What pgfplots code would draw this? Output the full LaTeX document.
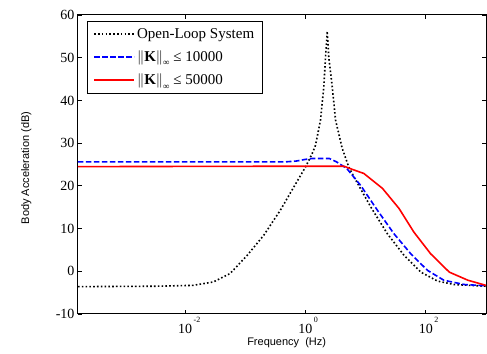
\documentclass[border=0pt]{standalone}
\usepackage{pgfplots}
\pgfplotsset{compat=1.18}
\usepackage{fontspec}
\setmainfont{Liberation Serif}
\newfontfamily\arial{Liberation Sans}
\begin{document}
\begin{tikzpicture}
\begin{axis}[
  scale only axis,
  width=408pt, height=299pt,
  xmode=log,
  xmin=1.66e-4, xmax=1000,
  ymin=-10, ymax=60,
  xtick={0.01,1,100},
  xticklabels={10\rlap{\hspace{1.5pt}\raisebox{11pt}{\fontsize{8}{8}\selectfont -2}},
               10\rlap{\hspace{1.5pt}\raisebox{11pt}{\fontsize{8}{8}\selectfont 0}},
               10\rlap{\hspace{1.5pt}\raisebox{11pt}{\fontsize{8}{8}\selectfont 2}}},
  ytick={-10,0,10,20,30,40,50,60},
  yticklabels={-10,0,10,20,30,40,50,60},
  xminorticks=false,
  yminorticks=false,
  tick align=inside,
  tick pos=both,
  major tick length=4pt,
  tick style={black, line width=0.8pt},
  axis line style={black, line width=1pt},
  ticklabel style={font=\fontsize{14}{16}\selectfont},
  xlabel={\arial Frequency~~(Hz)},
  ylabel={\arial Body Acceleration (dB)},
  label style={font=\fontsize{11}{13}\selectfont},
  xlabel style={at={(axis description cs:0.5115,-0.097)}, anchor=center},
  ylabel style={at={(axis description cs:-0.127,0.488)}, anchor=center},
  legend cell align=left,
  legend style={at={(axis description cs:0.0228,0.98)}, anchor=north west,
    draw=black, font=\fontsize{15}{17}\selectfont,
    inner xsep=6pt, inner ysep=5pt, row sep=7pt,
    nodes={inner sep=2pt}},
  legend image code/.code={\draw[#1] (0pt,0pt) -- (40pt,0pt);},
]
\addlegendimage{black, line width=1.6pt, dash pattern=on 1.6pt off 2.2pt}
\addlegendentry{Open-Loop System}
\addlegendimage{blue, line width=1.6pt, dash pattern=on 5.5pt off 2.5pt}
\addlegendentry{$\|$\textbf{K}$\|$\raisebox{-4.5pt}{\fontsize{9}{9}\selectfont ∞} ≤ 10000}
\addlegendimage{red, line width=1.6pt, solid}
\addlegendentry{$\|$\textbf{K}$\|$\raisebox{-4.5pt}{\fontsize{9}{9}\selectfont ∞} ≤ 50000}
\addplot[forget plot, black, line width=1.6pt, dash pattern=on 1.6pt off 2.2pt] coordinates {
(1.66e-4,-3.6) (3.16e-3,-3.5) (0.0135,-3.3) (0.0295,-2.5) (0.0562,-0.5)
(0.107,3.7) (0.2018,8.4) (0.3828,14.3) (0.638,19.7) (1.0,24.4) (1.288,27.5)
(1.469,29.5) (1.778,35.4) (2.018,43.2) (2.153,50) (2.30,56.2) (2.443,50)
(2.786,43.2) (3.162,35.4) (4.074,28.8) (5.248,24.4) (6.383,22.1) (12.11,15.1)
(22.91,8.8) (43.65,3.7) (82.6,-0.2) (156.7,-2.3) (295.1,-3.1) (1000,-3.5)
};
\addplot[forget plot, blue, line width=1.6pt, dash pattern=on 5.5pt off 2.5pt] coordinates {
(1.66e-4,25.6) (0.45,25.6) (0.7,25.8) (1.0,26.2) (1.3,26.4) (2.5,26.4)
(3.3,25.6) (4.9,24.0) (8.26,20.1) (15.67,14.3) (29.5,8.8) (56.2,4.1)
(107,0.2) (199.5,-2.1) (436,-3.1) (1000,-3.4)
};
\addplot[forget plot, red, line width=1.6pt] coordinates {
(1.66e-4,24.5) (1.0,24.6) (4.37,24.6) (5.62,24.0) (9.33,22.9) (19.05,19.4)
(35.9,14.7) (63.1,9.2) (120.2,4.1) (245.5,-0.2) (501,-2.1) (1000,-3.3)
};
\end{axis}
\pgfresetboundingbox
\path[use as bounding box] ([xshift=-78pt,yshift=-40pt]current axis.south west) rectangle ([xshift=1pt,yshift=15pt]current axis.north east);
\end{tikzpicture}
\end{document}
